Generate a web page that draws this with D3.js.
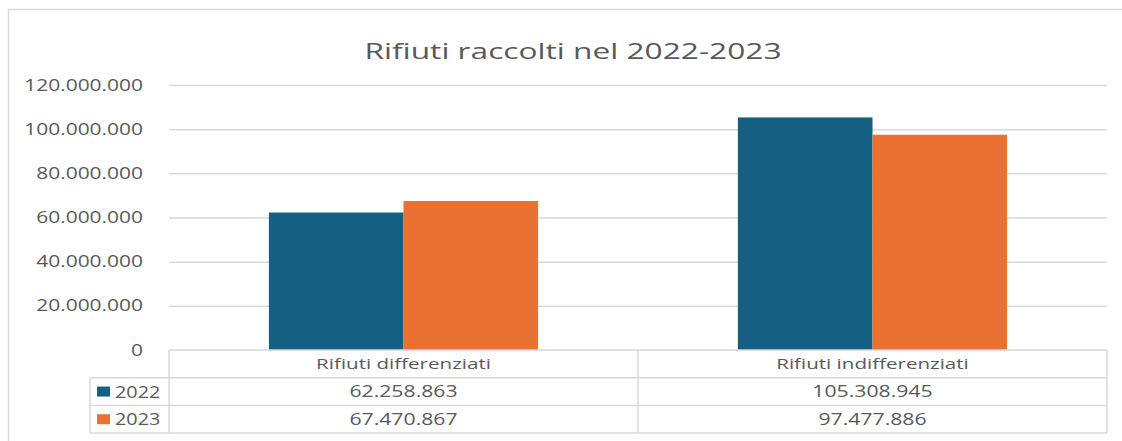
<!DOCTYPE html>
<html><head><meta charset="utf-8">
<script src="https://cdn.jsdelivr.net/npm/d3@7"></script>
<style>
html,body{margin:0;padding:0;background:#fff;overflow:hidden}
text{font-family:"Open Sans","Noto Sans",sans-serif;fill:#595959}
</style></head>
<body><svg id="c" width="1122" height="441"></svg>
<script>
const title = "Rifiuti raccolti nel 2022-2023";
const categories = ["Rifiuti differenziati", "Rifiuti indifferenziati"];
const seriesNames = ["2022", "2023"];
const values2022 = [62258863, 105308945];
const values2023 = [67470867, 97477886];
const yTicks = [0, 20000000, 40000000, 60000000, 80000000, 100000000, 120000000];
const colors = ["#156082", "#E97132"];

const series = [values2022, values2023];
const svg = d3.select("#c");
const fmt = v => d3.format(",")(v).replace(/,/g, ".");

// place horizontally-stretched text
function sText(parent, px, py, str, size, sx, anchor) {
  return parent.append("text")
    .attr("transform", `translate(${px},${py}) scale(${sx},1)`)
    .attr("text-anchor", anchor || "middle")
    .style("font-size", size + "px").text(str);
}

// outer frame
svg.append("rect").attr("x", 8.5).attr("y", 9.5).attr("width", 1130).attr("height", 440)
  .attr("fill", "#fff").attr("stroke", "#D9D9D9").attr("stroke-width", 1.5);

sText(svg, 573, 59, title, 22, 1.44, "middle");

const L = 169, R = 1107, T = 85, B = 350;
const x = d3.scaleBand().domain(categories).range([L, R]).paddingInner(0).paddingOuter(0);
const y = d3.scaleLinear().domain([0, 120000000]).range([B, T]);
const xs = d3.scaleBand().domain(seriesNames).range([0, x.bandwidth() * 0.574]);
const off = (x.bandwidth() - x.bandwidth() * 0.574) / 2;

// gridlines + labels
const tsx = 1.31, tpad = 26;
const yAxis = d3.axisLeft(y).tickValues(yTicks).tickSize(-(R - L)).tickFormat(fmt).tickPadding(tpad);
const ga = svg.append("g").attr("transform", `translate(${L},0)`).call(yAxis);
ga.select(".domain").remove();
ga.selectAll(".tick line").attr("stroke", "#D9D9D9").attr("stroke-width", 1.5)
  .filter(d => d === 0).remove();
ga.selectAll(".tick text").style("font-size", "16px").attr("fill", "#595959")
  .style("font-family", '"Open Sans",sans-serif')
  .attr("x", -tpad / tsx).attr("transform", `scale(${tsx},1)`);

// bars
seriesNames.forEach((s, i) => {
  svg.append("g").selectAll("rect").data(categories).join("rect")
    .attr("x", c => x(c) + off + xs(s))
    .attr("y", (c, j) => y(series[i][j]))
    .attr("width", xs.bandwidth())
    .attr("height", (c, j) => B - y(series[i][j]))
    .attr("fill", colors[i]);
});

// data table
const rowH = 27.7;
const legL = 90;
const g = svg.append("g");
const stroke = "#D9D9D9";
g.append("line").attr("x1", L).attr("x2", R).attr("y1", B).attr("y2", B);
for (let r = 1; r <= 3; r++) {
  g.append("line").attr("x1", legL).attr("x2", R).attr("y1", B + r * rowH).attr("y2", B + r * rowH);
}
g.append("line").attr("x1", legL).attr("x2", legL).attr("y1", B + rowH).attr("y2", B + 3 * rowH);
[L, x(categories[1]), R].forEach(xx => {
  g.append("line").attr("x1", xx).attr("x2", xx).attr("y1", B).attr("y2", B + 3 * rowH);
});
g.selectAll("line").attr("stroke", stroke).attr("stroke-width", 1.5);

categories.forEach(c => {
  sText(g, x(c) + x.bandwidth() / 2, B + rowH / 2 + 5.5, c, 15, 1.37, "middle");
});
seriesNames.forEach((s, i) => {
  const cy = B + rowH * (i + 1) + rowH / 2;
  g.append("rect").attr("x", 97).attr("y", cy - 5).attr("width", 13).attr("height", 10).attr("fill", colors[i]);
  sText(g, 115, cy + 6, s, 16.5, 1.2, "start");
  categories.forEach((c, j) => {
    sText(g, x(c) + x.bandwidth() / 2, cy + 5.5, fmt(series[i][j]), 15.5, 1.37, "middle");
  });
});
</script></body></html>
